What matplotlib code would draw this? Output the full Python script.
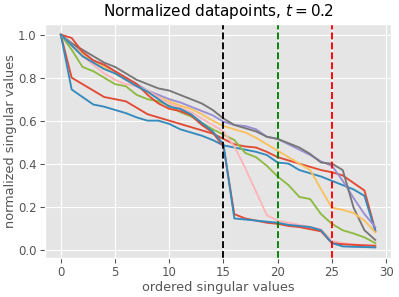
import numpy as np
import matplotlib
matplotlib.use('Agg')
import matplotlib.pyplot as plt

plt.style.use('ggplot')

idx = np.arange(30)

red_a = [1.0, 0.80, 0.77, 0.74, 0.71, 0.70, 0.69, 0.66, 0.63, 0.615,
         0.60, 0.585, 0.57, 0.555, 0.54, 0.515, 0.49, 0.48, 0.475, 0.455,
         0.43, 0.415, 0.40, 0.385, 0.37, 0.36, 0.345, 0.31, 0.275, 0.09]
blue_b = [1.0, 0.745, 0.71, 0.675, 0.665, 0.65, 0.635, 0.615, 0.60, 0.60,
          0.585, 0.56, 0.545, 0.53, 0.51, 0.485, 0.475, 0.465, 0.455, 0.44,
          0.405, 0.40, 0.37, 0.355, 0.34, 0.32, 0.30, 0.28, 0.25, 0.085]
purple = [1.0, 0.96, 0.92, 0.88, 0.86, 0.83, 0.80, 0.77, 0.74, 0.72,
          0.70, 0.685, 0.665, 0.645, 0.625, 0.595, 0.58, 0.575, 0.56, 0.525,
          0.515, 0.49, 0.465, 0.44, 0.41, 0.39, 0.32, 0.24, 0.165, 0.105]
gray = [1.0, 0.96, 0.93, 0.90, 0.87, 0.85, 0.82, 0.79, 0.77, 0.75,
        0.74, 0.72, 0.70, 0.68, 0.65, 0.61, 0.58, 0.565, 0.55, 0.525,
        0.515, 0.495, 0.475, 0.445, 0.405, 0.40, 0.37, 0.195, 0.09, 0.045]
yellow = [1.0, 0.95, 0.91, 0.87, 0.85, 0.82, 0.79, 0.76, 0.73, 0.71,
          0.69, 0.67, 0.655, 0.63, 0.60, 0.575, 0.56, 0.545, 0.52, 0.49,
          0.46, 0.43, 0.40, 0.37, 0.28, 0.195, 0.185, 0.17, 0.135, 0.08]
green = [1.0, 0.93, 0.85, 0.83, 0.80, 0.77, 0.76, 0.72, 0.70, 0.69,
         0.67, 0.64, 0.62, 0.59, 0.56, 0.535, 0.51, 0.45, 0.43, 0.39,
         0.34, 0.30, 0.245, 0.235, 0.165, 0.12, 0.09, 0.075, 0.057, 0.03]
pink = [1.0, 0.95, 0.90, 0.86, 0.82, 0.79, 0.77, 0.76, 0.74, 0.71,
        0.68, 0.66, 0.64, 0.61, 0.58, 0.55, 0.48, 0.38, 0.27, 0.16,
        0.135, 0.125, 0.115, 0.105, 0.095, 0.04, 0.03, 0.025, 0.02, 0.015]
red_c = [1.0, 0.985, 0.92, 0.88, 0.86, 0.83, 0.80, 0.77, 0.72, 0.68,
         0.655, 0.645, 0.625, 0.58, 0.545, 0.48, 0.165, 0.145, 0.135, 0.125,
         0.12, 0.11, 0.105, 0.095, 0.085, 0.03, 0.025, 0.022, 0.02, 0.018]
blue_d = [1.0, 0.95, 0.90, 0.87, 0.84, 0.82, 0.79, 0.76, 0.735, 0.70,
          0.665, 0.655, 0.63, 0.59, 0.55, 0.49, 0.145, 0.14, 0.135, 0.13,
          0.125, 0.115, 0.11, 0.105, 0.09, 0.03, 0.015, 0.013, 0.012, 0.01]

series = [red_a, blue_b, purple, gray, yellow, green, pink, red_c, blue_d]
cutoffs = [15, 20, 25]
cutoff_colors = ['k', 'g', 'r']

fig, ax = plt.subplots(figsize=(3.99, 2.97), dpi=100)
for s in series:
    ax.plot(idx, s, linewidth=1.35)
for c, col in zip(cutoffs, cutoff_colors):
    ax.axvline(c, color=col, linestyle='--', linewidth=1.35)

ax.set_title(r'Normalized datapoints, $t = 0.2$', fontsize=11)
ax.set_xlabel('ordered singular values', fontsize=9.3, labelpad=1)
ax.set_ylabel('normalized singular values', fontsize=9.3, labelpad=1)
ax.tick_params(labelsize=8.5, pad=2.5)
fig.subplots_adjust(left=0.113, right=0.98, top=0.919, bottom=0.131)
fig.savefig('out.png', dpi=100)
